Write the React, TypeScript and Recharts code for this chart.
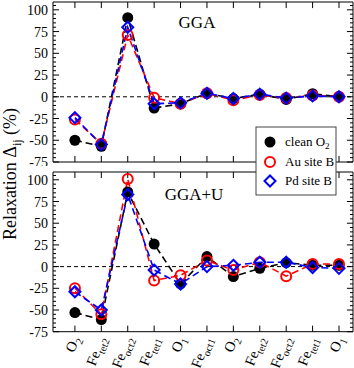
import React from 'react';
import { LineChart, Line, XAxis, YAxis, ReferenceLine, ReferenceArea } from 'recharts';

// site labels along the slab: [element, subscript]
const siteLabels: [string, string][] = [
  ['O', '2'],
  ['Fe', 'tet2'],
  ['Fe', 'oct2'],
  ['Fe', 'tet1'],
  ['O', '1'],
  ['Fe', 'oct1'],
  ['O', '2'],
  ['Fe', 'tet2'],
  ['Fe', 'oct2'],
  ['Fe', 'tet1'],
  ['O', '1'],
];
const sitePos = [1, 2, 3, 4, 5, 6, 7, 8, 9, 10, 11];

// GGA panel
const ggaClean = [-50, -57, 91, -13, -8, 4, -2, 3, -3, 3.5, 0];
const ggaAu = [-26, -54, 71, -1, -8, 4, -4, 2, -1.5, 1.5, 0];
const ggaPd = [-24, -55, 80, -8, -7, 4, -2, 3, -1.5, 1, 0];

// GGA+U panel
const ggauClean = [-53, -61, 86, 26, -20, 11.5, -11.5, -2, 4.5, 1.5, 1.5];
const ggauAu = [-25, -55, 101, -16, -10, 7, -4, 5, -11, 3, 3];
const ggauPd = [-29, -50, 83, -4, -20, 0, 1.5, 5, 5, -1, -2];

const seriesNames = ['clean O', 'Au site B', 'Pd site B'];
const yTicks = [
  -75, -70, -65, -60, -55, -50, -45, -40, -35, -30, -25, -20, -15, -10, -5, 0,
  5, 10, 15, 20, 25, 30, 35, 40, 45, 50, 55, 60, 65, 70, 75, 80, 85, 90, 95, 100, 105,
];
const majorY = [-75, -50, -25, 0, 25, 50, 75, 100];
const X_DOMAIN: [number, number] = [0.17, 11.53];
const Y_DOMAIN: [number, number] = [-75, 109];

const FONT = '"Liberation Serif", "DejaVu Serif", serif';

function makeRows(a: number[], b: number[], c: number[]) {
  return sitePos.map((x, i) => ({ x, clean: a[i], au: b[i], pd: c[i] }));
}

const BlackDot = (p: any) => <circle key={p.index} cx={p.cx} cy={p.cy} r={5.5} fill="#000" />;
const RedDot = (p: any) => (
  <circle key={p.index} cx={p.cx} cy={p.cy} r={5} fill="none" stroke="#ff0000" strokeWidth={2} />
);
const BlueDot = (p: any) => (
  <polygon
    key={p.index}
    points={`${p.cx},${p.cy - 5.5} ${p.cx + 5.5},${p.cy} ${p.cx},${p.cy + 5.5} ${p.cx - 5.5},${p.cy}`}
    fill="none"
    stroke="#0000ff"
    strokeWidth={2}
  />
);

const makeBottomTick = (withLabels: boolean) => (props: any) => {
  const { x, y, payload } = props;
  const lab = siteLabels[payload.value - 1];
  return (
    <g>
      {withLabels && lab ? (
        <text
          transform={`translate(${x + 5},${y + 7}) rotate(-68)`}
          textAnchor="end"
          fontFamily={FONT}
          fontSize={14.5}
          fill="#000"
        >
          {lab[0]}
          <tspan fontSize={10.5} dy={4}>{lab[1]}</tspan>
        </text>
      ) : null}
    </g>
  );
};

const LeftTick = (props: any) => {
  const { x, y, payload } = props;
  if (!majorY.includes(payload.value)) return <g />;
  return (
    <text x={x - 5} y={y + 5} textAnchor="end" fontFamily={FONT} fontSize={14} fill="#000">
      {payload.value}
    </text>
  );
};

// tick marks drawn inside the frame, in data units of each axis
const X_TICK = 7; // y-units
const Y_MAJOR = 0.23; // x-units
const Y_MINOR = 0.115;

function tickMarks() {
  const marks: any[] = [];
  sitePos.forEach((v) => {
    marks.push(
      <ReferenceLine key={`xb${v}`} xAxisId="b" yAxisId="l" stroke="#000" strokeWidth={1}
        segment={[{ x: v, y: Y_DOMAIN[0] }, { x: v, y: Y_DOMAIN[0] + X_TICK }]} />,
      <ReferenceLine key={`xt${v}`} xAxisId="b" yAxisId="l" stroke="#000" strokeWidth={1}
        segment={[{ x: v, y: Y_DOMAIN[1] }, { x: v, y: Y_DOMAIN[1] - X_TICK }]} />
    );
  });
  yTicks.forEach((v) => {
    const len = majorY.includes(v) ? Y_MAJOR : Y_MINOR;
    marks.push(
      <ReferenceLine key={`yl${v}`} xAxisId="b" yAxisId="l" stroke="#000" strokeWidth={1}
        segment={[{ x: X_DOMAIN[0], y: v }, { x: X_DOMAIN[0] + len, y: v }]} />,
      <ReferenceLine key={`yr${v}`} xAxisId="b" yAxisId="l" stroke="#000" strokeWidth={1}
        segment={[{ x: X_DOMAIN[1] - len, y: v }, { x: X_DOMAIN[1], y: v }]} />
    );
  });
  return marks;
}

function Panel({ rows, height, bottom, labels }: any) {
  return (
    <LineChart
      width={354}
      height={height}
      data={rows}
      margin={{ top: 0, right: 1, bottom, left: 0 }}
    >
      <XAxis
        xAxisId="b"
        dataKey="x"
        type="number"
        domain={X_DOMAIN}
        ticks={sitePos}
        height={2}
        tickSize={0}
        tickMargin={0}
        axisLine={false}
        tickLine={false}
        tick={makeBottomTick(labels)}
      />
      <XAxis
        xAxisId="t"
        orientation="top"
        dataKey="x"
        type="number"
        domain={X_DOMAIN}
        ticks={sitePos}
        height={2}
        axisLine={false}
        tickLine={false}
        tick={false}
      />
      <YAxis
        yAxisId="l"
        type="number"
        domain={Y_DOMAIN}
        ticks={yTicks}
        width={53}
        tickSize={0}
        tickMargin={0}
        axisLine={false}
        tickLine={false}
        tick={LeftTick}
        interval={0}
      />
      <ReferenceArea
        xAxisId="b"
        yAxisId="l"
        x1={X_DOMAIN[0]}
        x2={X_DOMAIN[1]}
        y1={Y_DOMAIN[0]}
        y2={Y_DOMAIN[1]}
        fill="none"
        fillOpacity={0}
        stroke="#000"
        strokeWidth={1}
        ifOverflow="visible"
      />
      {tickMarks()}
      <ReferenceLine xAxisId="b" yAxisId="l" y={0} stroke="#000" strokeDasharray="4 3" />
      <Line xAxisId="b" yAxisId="l" dataKey="clean" stroke="#000" strokeWidth={1.6} strokeDasharray="7 4" dot={BlackDot} isAnimationActive={false} />
      <Line xAxisId="b" yAxisId="l" dataKey="au" stroke="#ff0000" strokeWidth={1.6} strokeDasharray="7 4" dot={RedDot} isAnimationActive={false} />
      <Line xAxisId="b" yAxisId="l" dataKey="pd" stroke="#0000ff" strokeWidth={1.6} strokeDasharray="7 4" dot={BlueDot} isAnimationActive={false} />
    </LineChart>
  );
}

export default function App() {
  return (
    <div style={{ position: 'absolute', left: 0, top: 0, width: 354, height: 368, background: '#fff' }}>
      <div style={{ position: 'absolute', left: 0, top: 0 }}>
        <Panel rows={makeRows(ggaClean, ggaAu, ggaPd)} height={166} bottom={2} labels={false} />
      </div>
      <div style={{ position: 'absolute', left: 0, top: 170 }}>
        <Panel rows={makeRows(ggauClean, ggauAu, ggauPd)} height={198} bottom={34.3} labels={true} />
      </div>
      <svg
        width={354}
        height={368}
        style={{ position: 'absolute', left: 0, top: 0, pointerEvents: 'none' }}
      >
        <text x={197} y={28} textAnchor="middle" fontFamily={FONT} fontSize={17}>GGA</text>
        <text x={194} y={200} textAnchor="middle" fontFamily={FONT} fontSize={17}>GGA+U</text>
        <text
          transform="translate(16,174) rotate(-90)"
          textAnchor="middle"
          fontFamily={FONT}
          fontSize={18}
        >
          Relaxation Δ<tspan fontSize={12} dy={5}>ij</tspan>
          <tspan dy={-5}> (%)</tspan>
        </text>
        <rect x={256} y={127} width={80} height={68} fill="#fff" stroke="#444" strokeWidth={1} />
        <circle cx={270} cy={142} r={5.5} fill="#000" />
        <text x={285} y={146} fontFamily={FONT} fontSize={13}>
          {seriesNames[0]}
          <tspan fontSize={9} dy={3}>2</tspan>
        </text>
        <circle cx={270} cy={162} r={5} fill="none" stroke="#ff0000" strokeWidth={2} />
        <text x={285} y={166} fontFamily={FONT} fontSize={13}>{seriesNames[1]}</text>
        <polygon points="270,175.5 275.5,181 270,186.5 264.5,181" fill="none" stroke="#0000ff" strokeWidth={2} />
        <text x={285} y={185} fontFamily={FONT} fontSize={13}>{seriesNames[2]}</text>
      </svg>
    </div>
  );
}
